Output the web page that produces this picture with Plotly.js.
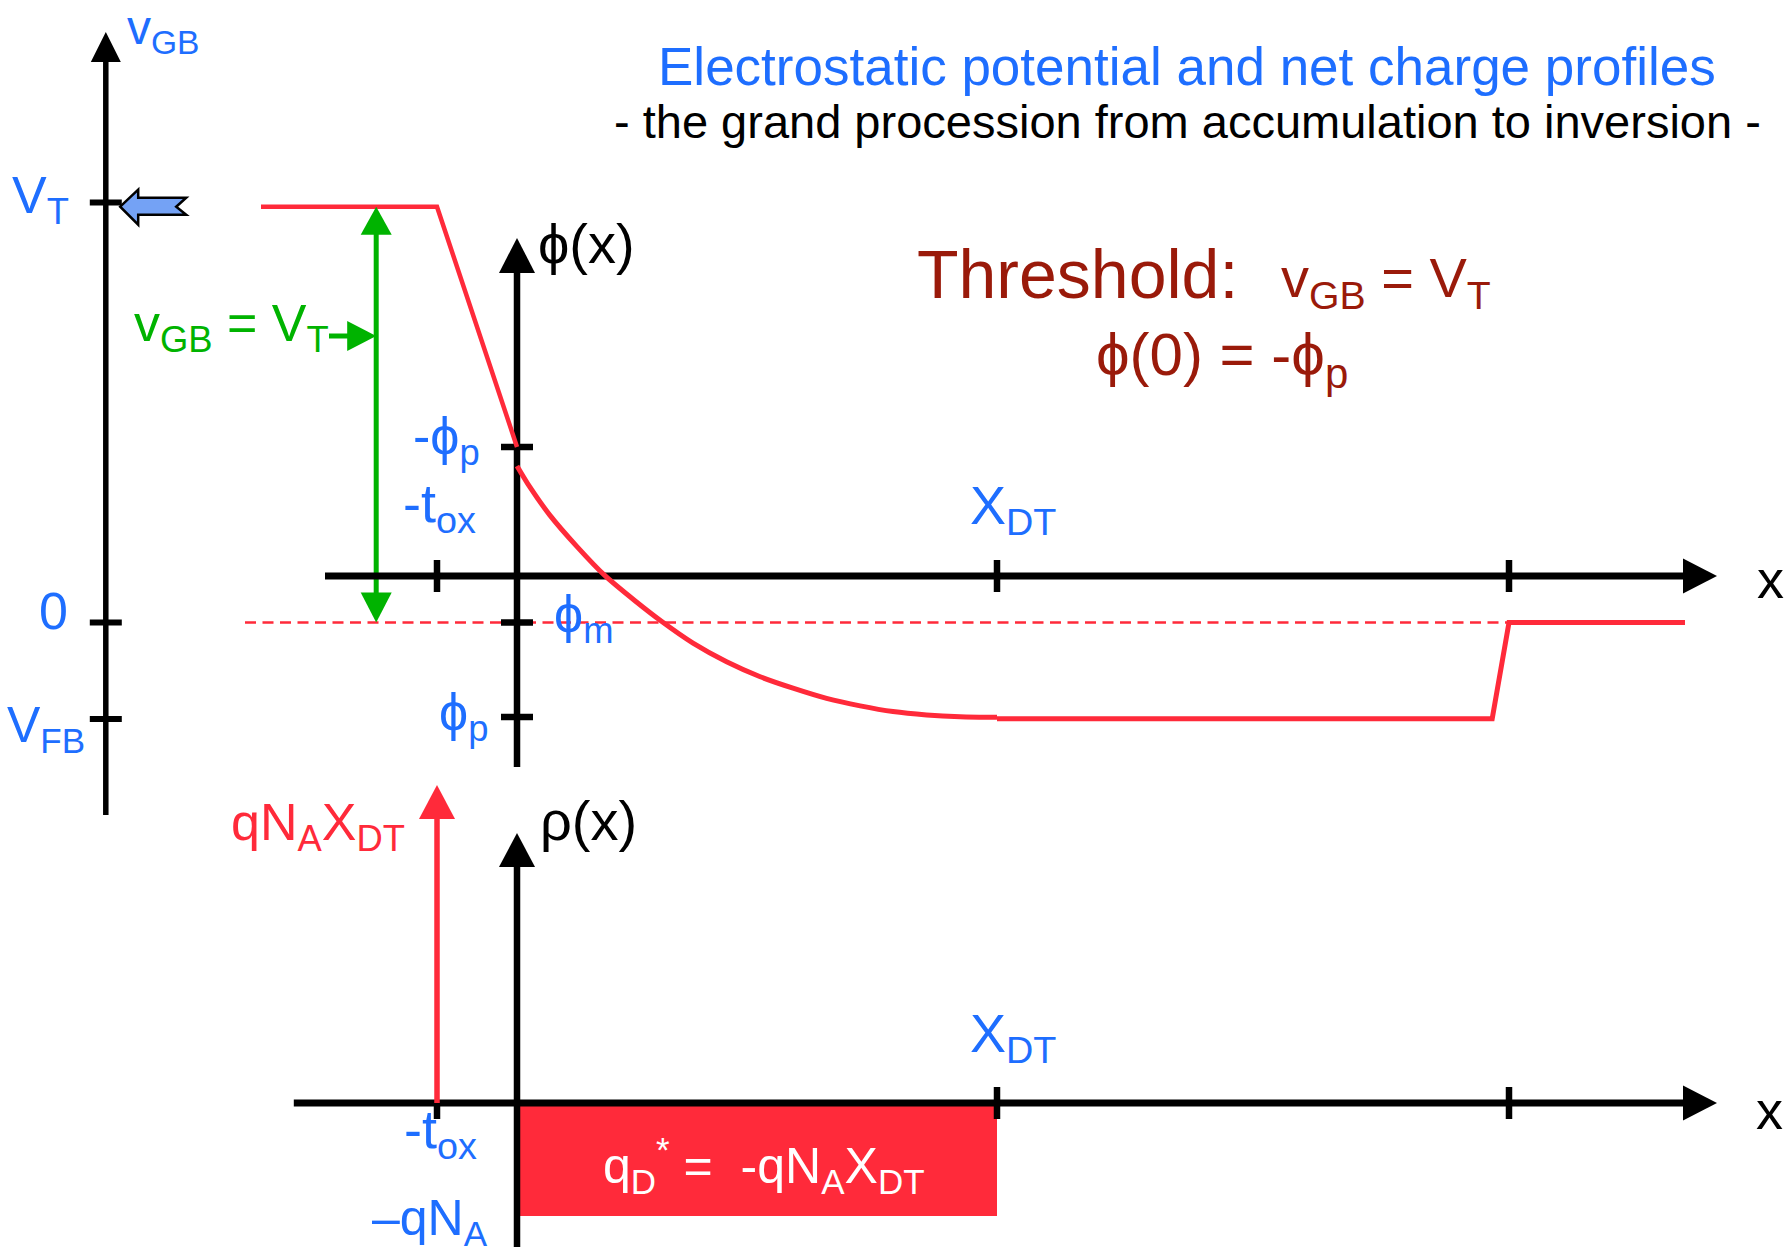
<!DOCTYPE html>
<html>
<head>
<meta charset="utf-8">
<script src="https://cdn.plot.ly/plotly-3.0.1.min.js"></script>
<style>
  html, body { margin: 0; padding: 0; background: #ffffff; }
  #chart { width: 1792px; height: 1251px; }
</style>
</head>
<body>
<div id="chart"></div>
<script>
// ---------- position along the MOS stack (x = 0 at the oxide / silicon interface) ----------
const tox = 1.0;              // oxide thickness
const XDT = 6.0;              // depletion width at threshold
const xBack = 12.4;           // back contact
const xGateLeft = -3.2;       // left end of the gate level
const xBulkEnd = 14.6;        // right end of the contact level
const xAxisTip = 15.0;        // x-axis arrow tip
const xTopAxisStart = -2.4;
const xBottomAxisStart = -2.79;
const xDashStart = -3.4;
const xVgbAxis = -5.14;       // position of the v_GB scale
const xVgbArrow = -1.76;      // v_GB = V_T double arrow
const xVgbLabelTail = -2.35;
const xVtPointer = -4.96;     // tip of the block arrow at V_T

// ---------- potential (V) ----------
const phiGate = 1.231;        // gate level at threshold
const phiOxSi = 0.43;         // -phi_p, oxide side of the interface
const phiM = -0.155;          // phi_m
const phiBulk = -0.476;       // phi_p
const phiAxisTop = 1.127;
const phiAxisBottom = -0.637;
const phiTickVals = [0.43, -0.155, -0.47];
const phiTickText = ['-ϕ<sub>p</sub>', 'ϕ<sub>m</sub>', 'ϕ<sub>p</sub>'];

// silicon potential profile, interface to X_DT
const siX   = [0, 0.16, 0.41, 0.75, 1.10, 1.49, 1.81, 2.20, 2.62, 3.04, 3.45, 3.87, 4.29, 4.70, 5.12, 5.54, 6.00];
const siPhi = [0.367, 0.297, 0.203, 0.098, 0.001, -0.086, -0.152, -0.224, -0.286, -0.336, -0.374, -0.408, -0.433, -0.452, -0.463, -0.469, -0.471];
// neutral bulk and back contact
const bulkX   = [6.00, 12.19, xBack, xBulkEnd];
const bulkPhi = [phiBulk, phiBulk, phiM, phiM];

// v_GB scale (drawn in the same potential frame; its zero sits at phi_m)
const vgbTickVals = [1.245, -0.155, -0.477];
const vgbTickText = ['V<sub>T</sub>', '0', 'V<sub>FB</sub>'];
const vgbAxisTop = 1.813;
const vgbAxisBottom = -0.797;
const vgbLabelLevel = 0.80;

// x-axis ticks
const xTickVals = [-tox, XDT, xBack];

// ---------- net charge ----------
const qNA = 1.0;              // -qN_A level of the depletion charge
const qGate = 2.814;          // gate sheet charge qN_A X_DT (arrow height)
const rhoAxisTop = 2.389;
const rhoAxisBottom = -1.274;

// ---------- colours ----------
const RED = '#ff2a3a', BLUE = '#1e6eff', GREEN = '#00b300', DARKRED = '#9a1a0a', BLACK = '#000000';
const FONT = 'Liberation Sans, Arial, sans-serif';

// helpers ------------------------------------------------------------
function segs(list) {           // list of [x0,y0,x1,y1] -> x/y arrays with gaps
  const x = [], y = [];
  list.forEach(s => { x.push(s[0], s[2], null); y.push(s[1], s[3], null); });
  return {x, y};
}
const W = 1792, H = 1251;
function P(xp, yp) { return {x: xp / W, y: 1 - yp / H}; }

const traces = [];
function line(x, y, color, w, ax, extra) {
  traces.push(Object.assign({x, y, yaxis: ax || 'y', mode: 'lines',
    line: {color, width: w}, hoverinfo: 'skip'}, extra || {}));
}

// depletion charge block
traces.push({
  x: [0, XDT, XDT, 0, 0], y: [0, 0, -qNA, -qNA, 0], yaxis: 'y2',
  mode: 'lines', fill: 'toself', fillcolor: RED, line: {width: 0, color: RED}, hoverinfo: 'skip'
});

// phi_m reference (dashed)
line([xDashStart, xBack], [phiM, phiM], RED, 2.5, 'y', {line: {color: RED, width: 2.5, dash: '11px,6.5px'}});

// green v_GB = V_T span and its pointer
line([xVgbArrow, xVgbArrow], [phiM + 0.04, phiGate - 0.04], GREEN, 5);
line([xVgbLabelTail, xVgbArrow - 0.2], [vgbLabelLevel, vgbLabelLevel], GREEN, 5);

// axis lines
line([xVgbAxis, xVgbAxis], [vgbAxisBottom, vgbAxisTop - 0.05], BLACK, 5.5);
line([0, 0], [phiAxisBottom, phiAxisTop - 0.05], BLACK, 6.5);
line([xTopAxisStart, xAxisTip - 0.2], [0, 0], BLACK, 7);
line([0, 0], [rhoAxisBottom, rhoAxisTop - 0.12], BLACK, 6.5, 'y2');
line([xBottomAxisStart, xAxisTip - 0.2], [0, 0], BLACK, 7, 'y2');

// ticks
const tv = 16 / 300, tv2 = 16 / 113, th = 0.2;
let t = segs(vgbTickVals.map(v => [xVgbAxis - th, v, xVgbAxis + th, v]));
line(t.x, t.y, BLACK, 6);
t = segs(phiTickVals.map(v => [-th, v, th, v]));
line(t.x, t.y, BLACK, 6.5);
t = segs(xTickVals.map(v => [v, -tv, v, tv]));
line(t.x, t.y, BLACK, 6.5);
t = segs(xTickVals.map(v => [v, v === -tox ? 0 : tv2, v, -tv2]));
line(t.x, t.y, BLACK, 6.5, 'y2');

// gate sheet charge
line([-tox, -tox], [0, qGate - 0.2], RED, 5.5, 'y2');

// potential: gate + oxide
line([xGateLeft, -tox, 0], [phiGate, phiGate, phiOxSi], RED, 4.5);
// potential: silicon
traces.push({
  x: siX, y: siPhi, mode: 'lines', line: {color: RED, width: 5, shape: 'spline', smoothing: 0.8}, hoverinfo: 'skip'
});
line(bulkX, bulkPhi, RED, 5);

// arrowheads (triangles anchored at the tip, sized in pixels) --------
const shapes = [];
function head(x, y, yref, dir, len, half, color) {
  const p = {
    up:    `M0,0 L${-half},${-len} L${half},${-len} Z`,
    down:  `M0,0 L${-half},${len} L${half},${len} Z`,
    right: `M0,0 L${-len},${half} L${-len},${-half} Z`
  }[dir];
  shapes.push({type: 'path', xref: 'x', yref, xsizemode: 'pixel', ysizemode: 'pixel',
               xanchor: x, yanchor: y, path: p, fillcolor: color, line: {width: 0}, layer: 'above'});
}
head(xVgbAxis, vgbAxisTop, 'y', 'up', 30, 15, BLACK);
head(0, phiAxisTop, 'y', 'up', 35, 18, BLACK);
head(xAxisTip, 0, 'y', 'right', 34, 17.5, BLACK);
head(0, rhoAxisTop, 'y2', 'up', 34, 18, BLACK);
head(xAxisTip, 0, 'y2', 'right', 34, 17.5, BLACK);
head(-tox, qGate, 'y2', 'up', 34, 18, RED);
head(xVgbArrow, phiGate, 'y', 'up', 28, 15.5, GREEN);
head(xVgbArrow, phiM, 'y', 'down', 30, 15.5, GREEN);
head(xVgbArrow, vgbLabelLevel, 'y', 'right', 29, 15, GREEN);

// notched block arrow pointing at V_T on the v_GB scale
shapes.push({
  type: 'path', xref: 'x', yref: 'y', xsizemode: 'pixel', ysizemode: 'pixel',
  xanchor: xVtPointer, yanchor: phiGate,
  path: 'M0,0 L18,17 L18,9 L66,9 L56,0 L66,-8 L18,-8 L18,-18 Z',
  fillcolor: '#74a2f5', line: {color: BLACK, width: 2.5}, layer: 'above'
});

// text labels -------------------------------------------------------
const ann = [];
function lab(text, xp, cy, xanchor, size, color) {
  const p = P(xp, cy);
  ann.push({x: p.x, y: p.y, xref: 'paper', yref: 'paper', xanchor, yanchor: 'middle',
            text, showarrow: false, font: {family: FONT, size, color}, borderpad: 0});
}
lab('Electrostatic potential and net charge profiles', 1187, 67, 'center', 53, BLUE);
lab('- the grand procession from accumulation to inversion -', 1187, 121, 'center', 47, BLACK);
lab('Threshold:', 916, 274, 'left', 68, DARKRED);
lab('v<sub>GB</sub> = V<sub>T</sub>', 1280, 282, 'left', 56, DARKRED);
lab('ϕ(0) = -ϕ<sub>p</sub>', 1095, 359, 'left', 60, DARKRED);

lab('v<sub>GB</sub>', 126, 31, 'left', 48, BLUE);
lab(vgbTickText[0], 70, 199, 'right', 52, BLUE);
lab(vgbTickText[1], 69, 611, 'right', 52, BLUE);
lab(vgbTickText[2], 86, 728, 'right', 50, BLUE);
lab('v<sub>GB</sub> = V<sub>T</sub>', 133, 327, 'left', 52, GREEN);

lab(phiTickText[0], 481, 440, 'right', 52, BLUE);
lab(phiTickText[1], 553, 618, 'left', 52, BLUE);
lab(phiTickText[2], 489, 716, 'right', 52, BLUE);
lab('-t<sub>ox</sub>', 477, 507, 'right', 54, BLUE);
lab('X<sub>DT</sub>', 969, 509, 'left', 54, BLUE);
lab('x', 1756, 579, 'left', 54, BLACK);
lab('ϕ(x)', 537, 244, 'left', 56, BLACK);

lab('ρ(x)', 539, 821, 'left', 56, BLACK);
lab('qN<sub>A</sub>X<sub>DT</sub>', 406, 826, 'right', 52, RED);
lab('-t<sub>ox</sub>', 478, 1133, 'right', 54, BLUE);
lab('–qN<sub>A</sub>', 489, 1221, 'right', 50, BLUE);
lab('X<sub>DT</sub>', 969, 1037, 'left', 54, BLUE);
lab('x', 1755, 1110, 'left', 54, BLACK);
lab('q<sub>D</sub><sup>*</sup> =\u00a0 -qN<sub>A</sub>X<sub>DT</sub>', 764, 1165, 'center', 50, '#ffffff');

const layout = {
  width: W, height: H, autosize: false,
  margin: {l: 0, r: 0, t: 0, b: 0, pad: 0},
  paper_bgcolor: '#ffffff', plot_bgcolor: '#ffffff',
  showlegend: false,
  xaxis: {range: [-517 / 80, (W - 517) / 80], visible: false, fixedrange: true},
  yaxis: {range: [-(H - 576) / 300, 576 / 300], visible: false, fixedrange: true},
  yaxis2: {range: [-(H - 1103) / 113, 1103 / 113], visible: false, overlaying: 'y', fixedrange: true},
  annotations: ann,
  shapes: shapes,
  font: {family: FONT}
};

Plotly.newPlot('chart', traces, layout, {displayModeBar: false, staticPlot: true});
</script>
</body>
</html>
